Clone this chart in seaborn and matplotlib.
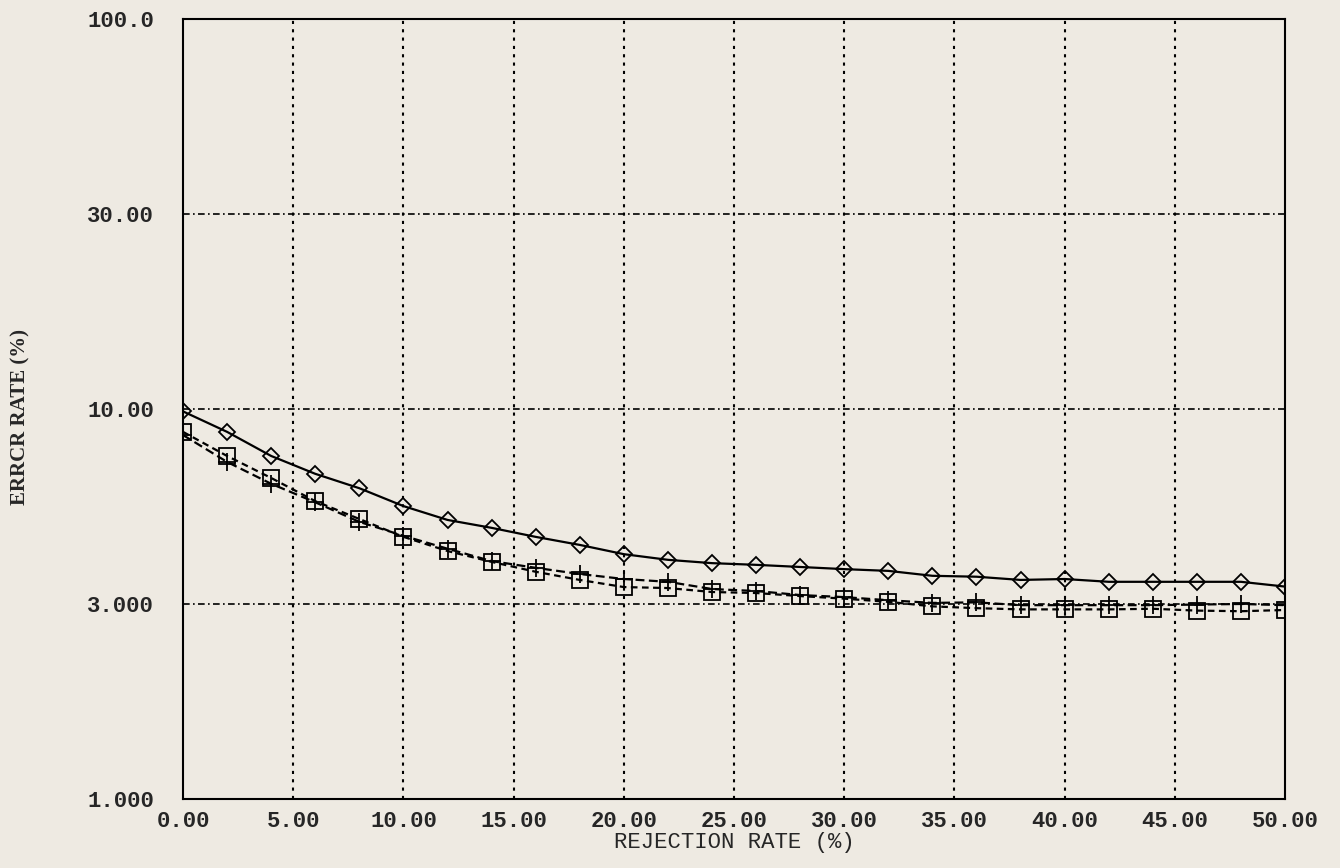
import numpy as np
import pandas as pd
import matplotlib
matplotlib.use('Agg')
import matplotlib.pyplot as plt
import seaborn as sns

# data (error rate in %, every 2% of rejection)
rejection = list(range(0, 51, 2))
err_diamond = [9.85, 8.68, 7.48, 6.70, 6.13, 5.49, 5.04, 4.80, 4.54, 4.32, 4.08, 3.94, 3.86,
               3.82, 3.77, 3.72, 3.68, 3.57, 3.55, 3.48, 3.50, 3.44, 3.44, 3.44, 3.44, 3.34]
err_plus = [8.51, 7.21, 6.30, 5.62, 4.98, 4.57, 4.22, 3.91, 3.75, 3.61, 3.50, 3.44, 3.29,
            3.25, 3.17, 3.13, 3.07, 3.02, 3.03, 2.98, 2.98, 2.98, 2.98, 2.99, 3.00, 2.98]
err_square = [8.68, 7.48, 6.53, 5.66, 5.07, 4.54, 4.16, 3.89, 3.66, 3.48, 3.33, 3.31, 3.23,
              3.21, 3.15, 3.10, 3.04, 2.96, 2.93, 2.91, 2.91, 2.91, 2.92, 2.89, 2.88, 2.90]

x_ticks = [0, 5, 10, 15, 20, 25, 30, 35, 40, 45, 50]
x_labels = ['0.00', '5.00', '10.00', '15.00', '20.00', '25.00', '30.00', '35.00', '40.00', '45.00', '50.00']
y_ticks = [1, 3, 10, 30, 100]
y_labels = ['1.000', '3.000', '10.00', '30.00', '100.0']

# equally spaced 1-3-10-30-100 axis
log_knots = np.log10(y_ticks)
pos_knots = np.arange(len(y_ticks))


def fwd(v):
    v = np.clip(np.asarray(v, dtype=float), 1e-6, None)
    return np.interp(np.log10(v), log_knots, pos_knots)


def inv(u):
    return 10 ** np.interp(np.asarray(u, dtype=float), pos_knots, log_knots)


bg = '#eeeae2'
sns.set_style('white')
plt.rcParams['font.family'] = ['Liberation Mono', 'DejaVu Sans Mono']

fig = plt.figure(figsize=(13.4, 8.68), dpi=100, facecolor=bg)
ax = fig.add_axes([0.1366, 0.0795, 0.8224, 0.8987])
ax.set_facecolor(bg)

ax.set_yscale('function', functions=(fwd, inv))

common = dict(ax=ax, color='black', linewidth=1.6,
              markerfacecolor='none', markeredgecolor='black', markeredgewidth=1.3)
sns.lineplot(x=rejection, y=err_diamond, marker='D', linestyle='-', markersize=8, **common)
sns.lineplot(x=rejection, y=err_plus, marker='+', linestyle=(0, (4, 2)), markersize=13, **common)
sns.lineplot(x=rejection, y=err_square, marker='s', linestyle=(0, (3, 2)), markersize=11, **common)

ax.set_xlim(0, 50)
ax.set_ylim(1, 100)
ax.set_xticks(x_ticks)
ax.set_xticklabels(x_labels)
ax.set_yticks(y_ticks)
ax.set_yticklabels(y_labels)
ax.minorticks_off()

ax.tick_params(axis='both', direction='in', length=6, width=1, color='black', labelsize=16)
ax.tick_params(axis='x', pad=9)
ax.tick_params(axis='y', pad=21)
for lab in ax.get_xticklabels() + ax.get_yticklabels():
    lab.set_fontweight('bold')

for v in y_ticks[1:-1]:
    ax.axhline(v, color='black', linewidth=1.2, linestyle=(0, (4, 2, 1, 2)), zorder=0)
for v in x_ticks[1:-1]:
    ax.axvline(v, color='black', linewidth=1.5, linestyle=(0, (1.5, 2.5)), zorder=0)

for s in ax.spines.values():
    s.set_color('black')
    s.set_linewidth(1.5)

ax.set_xlabel('REJECTION RATE (%)', fontsize=16, labelpad=0)
ax.set_ylabel('ERRCR RATE (%)', fontsize=15, fontfamily=['Liberation Serif'], fontweight='bold')
ax.yaxis.set_label_coords(-0.138, 0.49)

fig.savefig('out.png', dpi=100, facecolor=bg)
